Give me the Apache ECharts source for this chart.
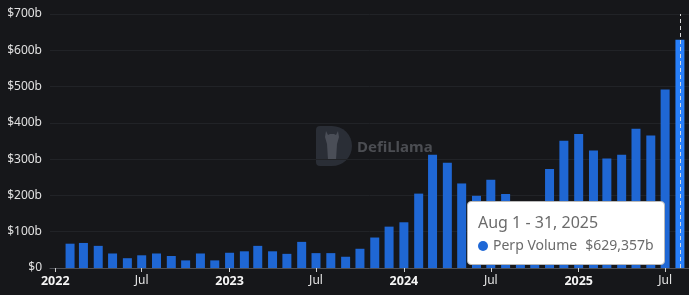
<!DOCTYPE html>
<html>
<head>
<meta charset="utf-8">
<script src="https://cdn.jsdelivr.net/npm/echarts@6/dist/echarts.min.js"></script>
<style>
html, body { margin: 0; padding: 0; background: #16171a; }
#chart { width: 689px; height: 295px; }
</style>
</head>
<body>
<div id="chart"></div>
<script>
// monthly perp volume, in billions of dollars
let months = [
    '2022-02', '2022-03', '2022-04', '2022-05', '2022-06', '2022-07', '2022-08', '2022-09', '2022-10', '2022-11', '2022-12',
    '2023-01', '2023-02', '2023-03', '2023-04', '2023-05', '2023-06', '2023-07', '2023-08', '2023-09', '2023-10', '2023-11', '2023-12',
    '2024-01', '2024-02', '2024-03', '2024-04', '2024-05', '2024-06', '2024-07', '2024-08', '2024-09', '2024-10', '2024-11', '2024-12',
    '2025-01', '2025-02', '2025-03', '2025-04', '2025-05', '2025-06', '2025-07', '2025-08'
];
let perpVolume = [
    67, 69, 61, 40, 27, 35, 40, 33, 21, 40, 21,
    42, 46, 61, 46, 39, 72, 41, 41, 31, 53, 84, 114,
    126, 205, 312, 290, 233, 199, 243, 204, 170, 178, 273, 351,
    369, 324, 302, 312, 384, 365, 492, 629.357
];
let tickMonths = ['2022-01', '2022-07', '2023-01', '2023-07', '2024-01', '2024-07', '2025-01', '2025-07'];
let monthNames = ['Jan', 'Feb', 'Mar', 'Apr', 'May', 'Jun', 'Jul', 'Aug', 'Sep', 'Oct', 'Nov', 'Dec'];
let seriesName = 'Perp Volume';

function toTime(s) {
    return Date.UTC(+s.slice(0, 4), +s.slice(5, 7) - 1, 1);
}

let seriesData = months.map(function (m, i) {
    return [toTime(m), perpVolume[i]];
});
let tickValues = tickMonths.map(toTime);

let myChart = echarts.init(document.getElementById('chart'));
let option = {
    backgroundColor: '#16171a',
    animation: false,
    grid: { left: 50, right: 0, top: 14, bottom: 27 },
    xAxis: {
        // timestamps on a value axis, so the ticks can be pinned to Jan / Jul
        type: 'value',
        min: Date.UTC(2021, 11, 21),
        max: Date.UTC(2025, 7, 20),
        axisLine: { show: true, onZero: false, lineStyle: { color: '#4d4f55' } },
        axisTick: { show: true, customValues: tickValues, length: 4, lineStyle: { color: '#cfcfcf' } },
        splitLine: { show: false },
        axisLabel: {
            customValues: tickValues,
            color: '#e6e6e6',
            fontSize: 12,
            fontFamily: 'Noto Sans',
            margin: 7,
            formatter: function (v) {
                let d = new Date(v);
                let m = d.getUTCMonth();
                return m === 0 ? '{y|' + d.getUTCFullYear() + '}' : monthNames[m];
            },
            rich: {
                y: { fontWeight: 'bold', fontSize: 12.5, color: '#f4f4f4', fontFamily: 'Noto Sans' }
            }
        }
    },
    yAxis: {
        type: 'value',
        min: 0,
        max: 700,
        interval: 100,
        axisLine: { show: false },
        axisTick: { show: false },
        splitLine: { lineStyle: { color: '#212327', width: 1 } },
        axisLabel: {
            color: '#e0e0e0',
            fontSize: 12,
            fontFamily: 'Noto Sans',
            margin: 8,
            formatter: function (v) { return '$' + v + (v === 0 ? '' : 'b'); }
        }
    },
    tooltip: {
        trigger: 'axis',
        triggerOn: 'none',
        alwaysShowContent: true,
        position: [467, 201],
        backgroundColor: '#ffffff',
        borderColor: '#b8b8b8',
        borderWidth: 1,
        padding: [9, 10],
        extraCssText: 'border-radius:4px;box-shadow:none;',
        axisPointer: {
            type: 'line',
            snap: true,
            lineStyle: { color: '#d8d8d8', type: [4, 3], width: 1 }
        },
        formatter: function (params) {
            let p = params[0];
            let d = new Date(p.value[0]);
            let y = d.getUTCFullYear(), m = d.getUTCMonth();
            let last = new Date(Date.UTC(y, m + 1, 0)).getUTCDate();
            let val = p.value[1].toFixed(3).replace('.', ',');
            return '<div style="font-family:Noto Sans;font-size:16px;color:#6b6b6b;line-height:23px;white-space:nowrap;">' +
                monthNames[m] + ' 1 - ' + last + ', ' + y + '</div>' +
                '<div style="font-family:Noto Sans;font-size:14px;color:#6b6b6b;line-height:21px;white-space:nowrap;">' +
                '<span style="display:inline-block;width:10px;height:10px;border-radius:5px;background:#1f68d6;margin-right:5px;vertical-align:-1px;"></span>' +
                p.seriesName + '<span style="margin-left:8px;">$' + val + 'b</span></div>';
        }
    },
    graphic: [
        {
            type: 'rect',
            z: 0,
            shape: { x: 316, y: 126, width: 36, height: 40, r: [4, 20, 20, 4] },
            style: { fill: '#2a2e36' }
        },
        {
            type: 'polygon',
            z: 0,
            shape: {
                points: [[326, 131], [328, 135], [330, 134], [334, 134], [336, 135], [338, 131], [339, 137], [337, 144], [336, 160], [328, 160], [327, 144], [325, 137]]
            },
            style: { fill: '#4a4e57' }
        },
        {
            type: 'text',
            z: 0,
            left: 357,
            top: 140,
            style: { text: 'DefiLlama', fill: '#4b4d52', font: 'bold 15px "Noto Sans"' }
        }
    ],
    series: [{
        name: seriesName,
        type: 'bar',
        barWidth: 9,
        data: seriesData,
        itemStyle: {
            color: function (p) {
                return p.dataIndex === months.length - 1 ? '#2474e4' : '#1f67d4';
            }
        }
    }]
};
myChart.setOption(option);
myChart.dispatchAction({ type: 'showTip', seriesIndex: 0, dataIndex: months.length - 1 });
</script>
</body>
</html>
